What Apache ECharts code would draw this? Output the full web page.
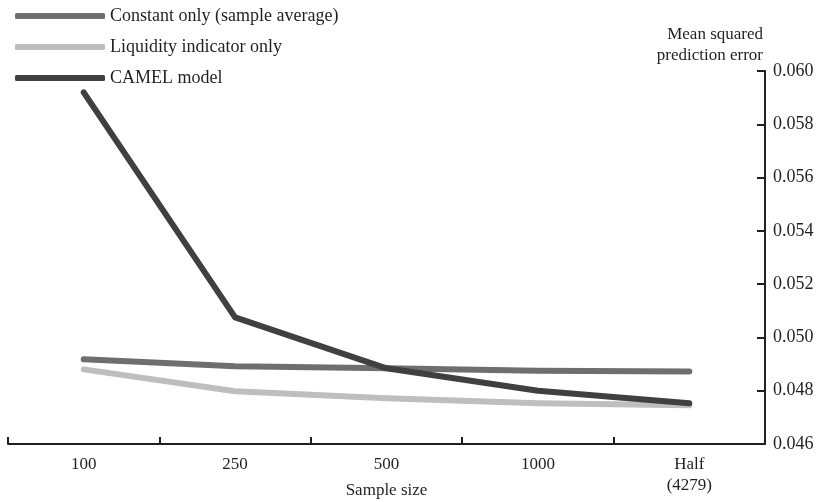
<!DOCTYPE html>
<html><head><meta charset="utf-8">
<script src="https://cdn.jsdelivr.net/npm/echarts@6/dist/echarts.min.js"></script>
<style>html,body{margin:0;padding:0;background:#fff}#c{width:821px;height:502px}</style>
</head><body><div id="c"></div>
<script>
const categories = ['100', '250', '500', '1000', 'Half\n(4279)'];
const constantOnly = [0.04918, 0.04892, 0.04884, 0.04875, 0.04872];
const liquidityOnly = [0.04880, 0.04798, 0.04772, 0.04753, 0.04745];
const camelModel = [0.05920, 0.05075, 0.04884, 0.04800, 0.04753];
const yTicks = { min: 0.046, max: 0.060, interval: 0.002 };

const font = 'Liberation Serif';
const ink = '#231f20';
const chart = echarts.init(document.getElementById('c'));
function mk(name, data, color) {
  return { name, type: 'line', data, symbol: 'none', smooth: false,
    lineStyle: { width: 6, color, cap: 'round', join: 'round' }, itemStyle: { color } };
}
chart.setOption({
  animation: false,
  backgroundColor: '#fff',
  textStyle: { fontFamily: font },
  legend: {
    orient: 'vertical', left: 10, top: 2,
    icon: 'roundRect', itemWidth: 90, itemHeight: 6, itemGap: 13,
    textStyle: { fontFamily: font, fontSize: 18, color: ink },
    data: ['Constant only (sample average)', 'Liquidity indicator only', 'CAMEL model']
  },
  grid: { left: 8, right: 56, top: 71, bottom: 58, containLabel: false, outerBoundsMode: 'none' },
  xAxis: {
    type: 'category', data: categories, boundaryGap: true,
    name: 'Sample size', nameLocation: 'middle', nameGap: 38,
    nameMoveOverlap: false,
    nameTextStyle: { fontFamily: font, fontSize: 17, color: ink },
    axisLine: { lineStyle: { color: ink, width: 2 } },
    axisTick: { show: true, inside: true, interval: 0, length: 7, lineStyle: { color: ink, width: 2 } },
    axisLabel: { fontFamily: font, fontSize: 17, color: ink, margin: 10, lineHeight: 21, interval: 0 }
  },
  yAxis: {
    type: 'value', position: 'right', min: yTicks.min, max: yTicks.max, interval: yTicks.interval,
    name: 'Mean squared\nprediction error', nameLocation: 'end', nameGap: 5,
    nameTextStyle: { fontFamily: font, fontSize: 17, color: ink, align: 'right', lineHeight: 21, padding: [0, 2, 0, 0] },
    splitLine: { show: false },
    axisLine: { show: true, lineStyle: { color: ink, width: 2 } },
    axisTick: { show: true, inside: true, length: 8, lineStyle: { color: ink, width: 2 } },
    axisLabel: { fontFamily: font, fontSize: 18, color: ink, margin: 8, formatter: v => v.toFixed(3) }
  },
  series: [
    mk('Constant only (sample average)', constantOnly, '#6d6e71'),
    mk('Liquidity indicator only', liquidityOnly, '#bcbec0'),
    mk('CAMEL model', camelModel, '#404041')
  ]
});
</script></body></html>
